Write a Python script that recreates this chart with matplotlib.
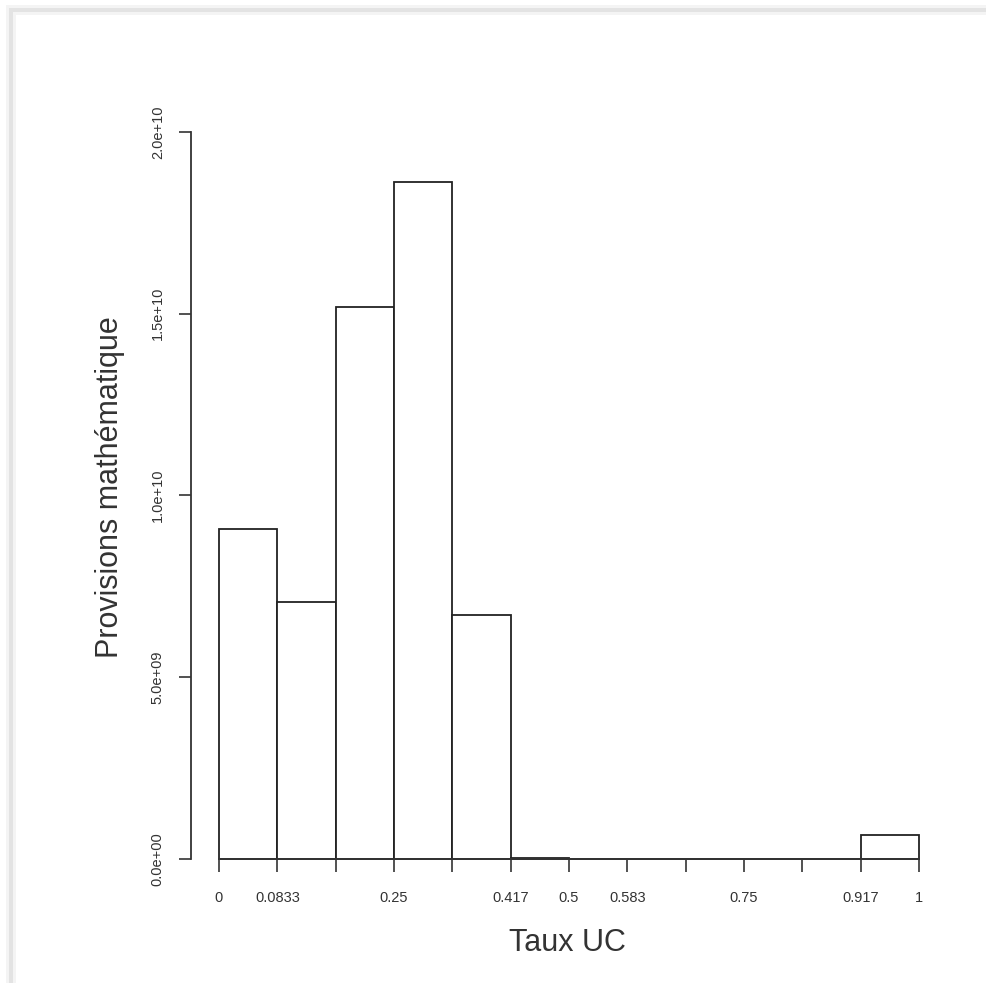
import matplotlib
matplotlib.use("Agg")
import matplotlib.pyplot as plt
from matplotlib.lines import Line2D
import numpy as np

plt.rcParams['font.family'] = ['Liberation Sans', 'DejaVu Sans']

# Data: histogram of "Taux UC" weighted by provisions (12 bins on [0,1])
bin_edges = [0, 1/12, 2/12, 3/12, 4/12, 5/12, 6/12, 7/12, 8/12, 9/12, 10/12, 11/12, 1]
bin_heights = [9.08e9, 7.07e9, 1.518e10, 1.862e10, 6.71e9, 0.04e9, 0, 0, 0, 0, 0, 0.66e9]
xtick_labels = ["0", "0.0833", "", "0.25", "", "0.417", "0.5", "0.583", "", "0.75", "", "0.917", "1"]
ytick_values = [0, 5e9, 1e10, 1.5e10, 2e10]
ytick_labels = ["0.0e+00", "5.0e+09", "1.0e+10", "1.5e+10", "2.0e+10"]

W, H = 987, 983
fig = plt.figure(figsize=(W / 100, H / 100), dpi=100)

# faint screenshot frame (top and left edges)
for lw, col in [(10, '#f4f4f4'), (4, '#e3e3e3')]:
    fig.add_artist(Line2D([11 / W, 1], [1 - 10 / H, 1 - 10 / H], transform=fig.transFigure,
                          color=col, linewidth=lw * 0.72))
    fig.add_artist(Line2D([11 / W, 11 / W], [0, 1 - 10 / H], transform=fig.transFigure,
                          color=col, linewidth=lw * 0.72))

x0, x1 = 219, 919
y0, y1 = 859, 132
ax = fig.add_axes([x0 / W, 1 - y0 / H, (x1 - x0) / W, (y0 - y1) / H])
ax.set_xlim(0, 1)
ax.set_ylim(0, 2e10)
ax.patch.set_alpha(0)

lefts = np.array(bin_edges[:-1])
widths = np.diff(bin_edges)
ax.bar(lefts, bin_heights, width=widths, align='edge', facecolor='white',
       edgecolor='#222222', linewidth=1.3, clip_on=False)

for s in ['top', 'right']:
    ax.spines[s].set_visible(False)
ax.spines['left'].set_position(('outward', 20))
ax.spines['left'].set_bounds(0, 2e10)
ax.spines['bottom'].set_position(('data', 0))
ax.spines['bottom'].set_bounds(0, 1)
for s in ['left', 'bottom']:
    ax.spines[s].set_color('#333333')
    ax.spines[s].set_linewidth(1.3)

ax.set_xticks(bin_edges)
ax.set_xticklabels(xtick_labels, fontsize=10.5, color='#333333')
ax.set_yticks(ytick_values)
ax.set_yticklabels(ytick_labels, fontsize=10.5, rotation=90, va='center', color='#333333')
ax.tick_params(axis='x', length=9, width=1.2, color='#333333', pad=14)
ax.tick_params(axis='y', length=9, width=1.2, color='#333333', pad=10)

fig.text(567 / W, 1 - 943 / H, "Taux UC", fontsize=22, ha='center', va='center', color='#333333')
fig.text(110 / W, 1 - 487 / H, "Provisions mathématique", fontsize=22, rotation=90,
         ha='center', va='center', color='#333333')

fig.savefig("out.png", dpi=100)
